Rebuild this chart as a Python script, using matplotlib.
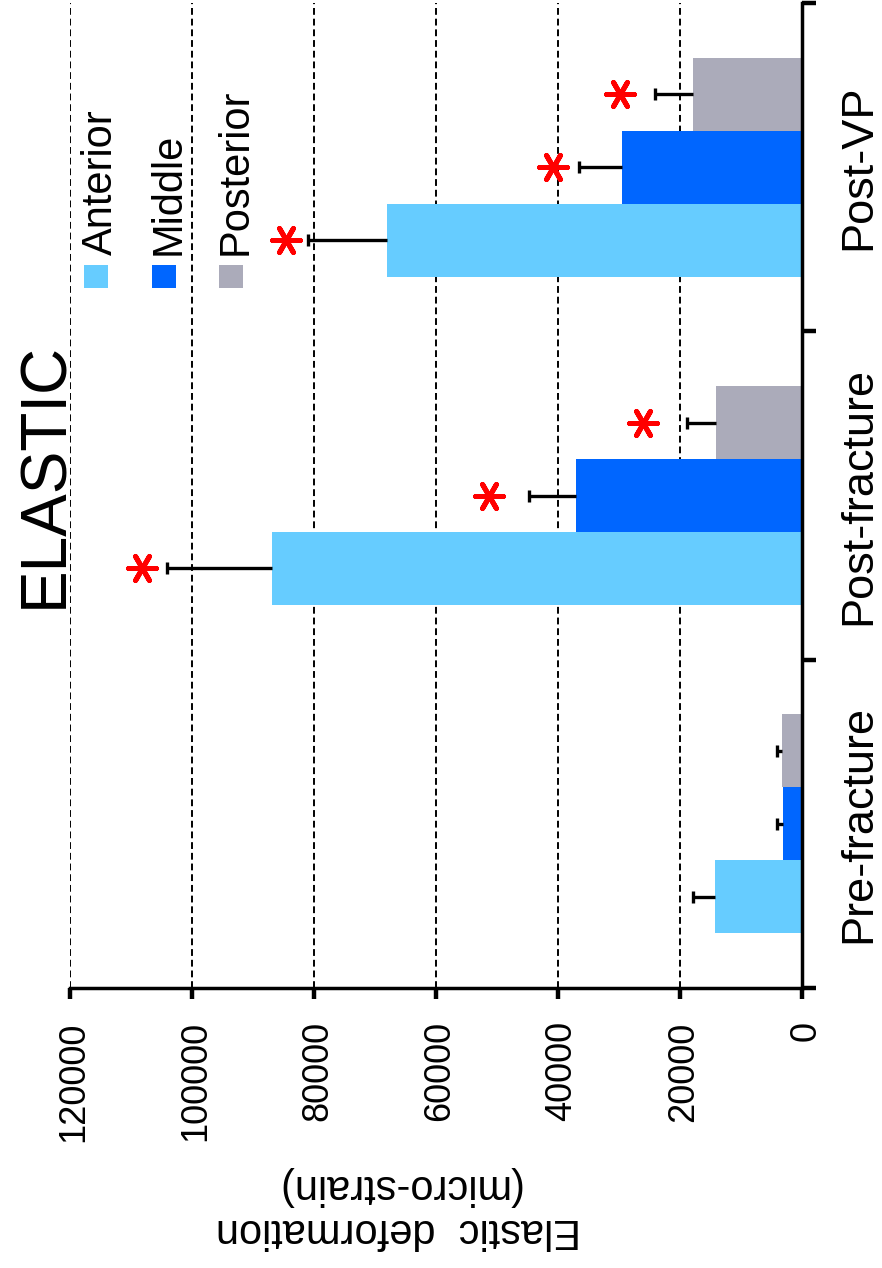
import numpy as np
import matplotlib
matplotlib.use("Agg")
import matplotlib.pyplot as plt
from matplotlib.patches import Rectangle

plt.rcParams['font.family'] = ['Liberation Sans', 'DejaVu Sans']

# ---------------- data ----------------
categories = ['Pre-fracture', 'Post-fracture', 'Post-VP']
series = ['Anterior', 'Middle', 'Posterior']
colors = ['#66CCFF', '#0066FF', '#ABABBA']

anterior = [14300, 86900, 68000]
anterior_err = [3600, 17200, 13000]
middle = [3100, 37000, 29500]
middle_err = [1000, 7700, 7000]
posterior = [3300, 14100, 17900]
posterior_err = [800, 4750, 6200]

# asterisk (significance) positions along the value axis, nan = none
anterior_star = [np.nan, 108200, 84600]
middle_star = [np.nan, 51300, 40800]
posterior_star = [np.nan, 26100, 29800]

value_ticks = [0, 20000, 40000, 60000, 80000, 100000, 120000]
title = 'ELASTIC'
ylabel = 'Elastic  deformation\n(micro-strain)'

# ---------------- figure ----------------
W, H = 882, 1268
fig = plt.figure(figsize=(W / 100, H / 100), dpi=100)

def px(x, y):
    return x / W, 1 - y / H

ax_l, ax_r, ax_t, ax_b = 70, 802, 3, 988
ax = fig.add_axes([ax_l / W, 1 - ax_b / H, (ax_r - ax_l) / W, (ax_b - ax_t) / H])

pos = np.arange(len(categories))
bw = 0.222
vals = [anterior, middle, posterior]
errs = [anterior_err, middle_err, posterior_err]
stars = [anterior_star, middle_star, posterior_star]

for i in range(3):
    yp = pos + (i - 1) * bw
    ax.barh(yp, vals[i], height=bw, color=colors[i], zorder=2, linewidth=0)
    v = np.array(vals[i], dtype=float)
    e = np.array(errs[i], dtype=float)
    res = ax.errorbar(v, yp, xerr=[np.zeros_like(e), e], fmt='none',
                      ecolor='black', elinewidth=2.4, capsize=4.3,
                      capthick=2.4, zorder=3)
    for cl in res[1]:
        if np.allclose(cl.get_xdata(), v):
            cl.set_visible(False)
    s = np.array(stars[i], dtype=float)
    ax.scatter(s, yp, marker=(6, 2, 90), s=20 ** 2, color='#FF0000',
               linewidths=3.6, zorder=4)

ax.set_xlim(120000, 0)
ax.set_ylim(-0.5, 2.5)

# grid
ax.set_xticks(value_ticks)
ax.xaxis.grid(True, color='black', linestyle=(0, (3.5, 2)), linewidth=1.4, zorder=0)
ax.set_axisbelow(True)

# spines
for s_ in ['left', 'top']:
    ax.spines[s_].set_visible(False)
for s_ in ['bottom', 'right']:
    ax.spines[s_].set_linewidth(2.5)
    ax.spines[s_].set_zorder(5)

# value axis ticks / labels
ax.tick_params(axis='x', direction='out', length=8, width=3.2, labelsize=26,
               pad=16)
ax.set_xticklabels([str(v) for v in value_ticks])
for lab in ax.get_xticklabels():
    lab.set_rotation(90)
    lab.set_rotation_mode('anchor')
    lab.set_ha('right')
    lab.set_va('center_baseline')

# category axis: ticks at group boundaries on the right
ax.yaxis.tick_right()
ax.set_yticks(np.arange(-0.5, len(categories), 1.0))
ax.set_yticklabels([])
ax.tick_params(axis='y', which='major', direction='out', length=10, width=3.2,
               right=True, left=False)
for k, c in enumerate(categories):
    ax.text(1 + (870 - ax_r) / (ax_r - ax_l), pos[k], c,
            transform=ax.get_yaxis_transform(), rotation=90,
            rotation_mode='anchor', ha='center', va='baseline', fontsize=32.5)

# title
fig.text(*px(62, 475), title, rotation=90, rotation_mode='anchor',
         ha='center', va='baseline', fontsize=46)

# value-axis label (upside down)
fig.text(*px(398, 1208), ylabel, rotation=180, ha='center', va='center',
         multialignment='center', fontsize=30, linespacing=1.12)

# legend (manual, rotated)
for i, name in enumerate(series):
    cx = 96 + 67.5 * i
    x0, y0 = px(cx - 12, 288)
    fig.add_artist(Rectangle((x0, y0), 24 / W, 23 / H, transform=fig.transFigure,
                             facecolor=colors[i], edgecolor='none'))
    fig.text(*px(cx + 16, 255), name, rotation=90, rotation_mode='anchor',
             ha='left', va='baseline', fontsize=30)

fig.savefig('out.png', dpi=100)
